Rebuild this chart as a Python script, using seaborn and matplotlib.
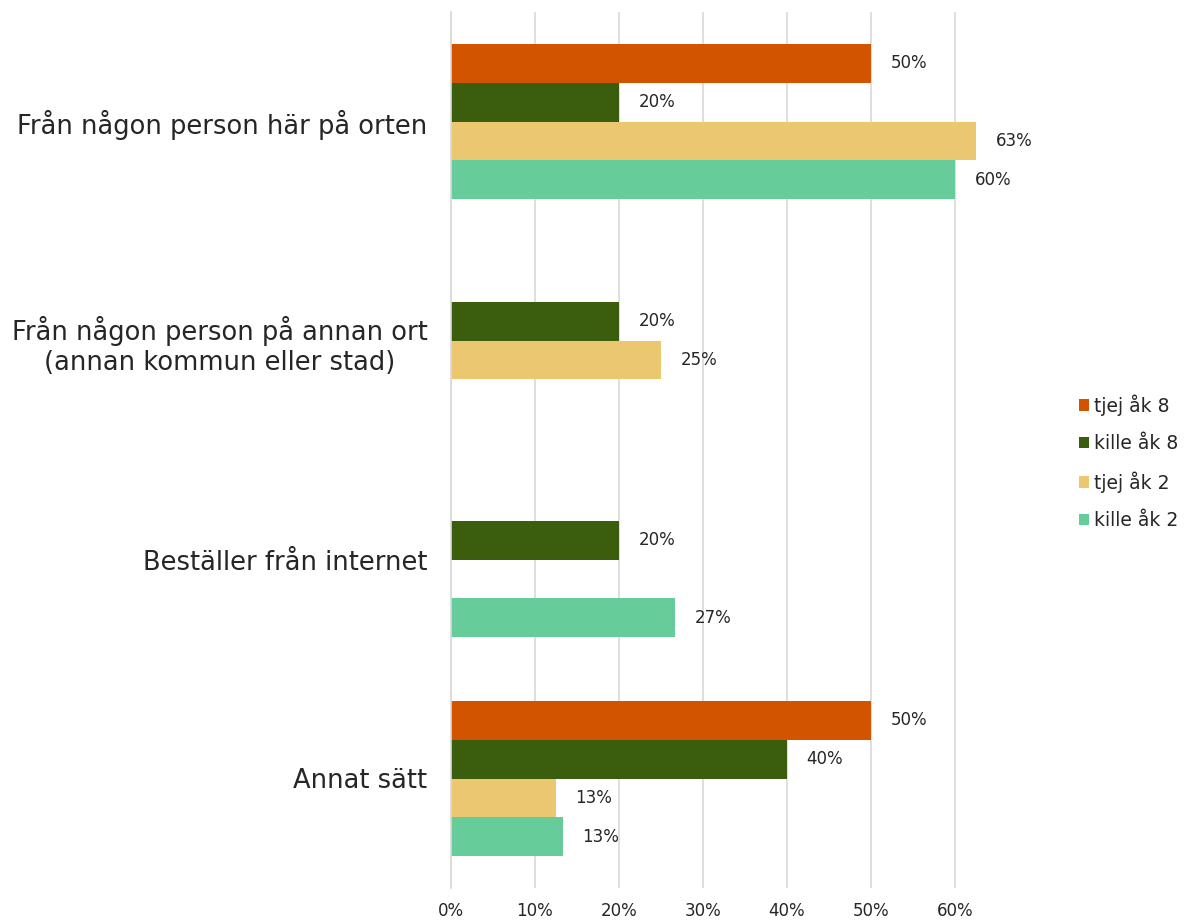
import matplotlib
matplotlib.use("Agg")
import matplotlib.pyplot as plt
import seaborn as sns
import pandas as pd
import numpy as np
from matplotlib.patches import Patch

categories = ["Från någon person här på orten",
              "Från någon person på annan ort\n(annan kommun eller stad)",
              "Beställer från internet",
              "Annat sätt"]
series = ["tjej åk 8", "kille åk 8", "tjej åk 2", "kille åk 2"]
tjej_ak8 = [0.50, np.nan, np.nan, 0.50]
kille_ak8 = [0.20, 0.20, 0.20, 0.40]
tjej_ak2 = [0.625, 0.25, np.nan, 0.125]
kille_ak2 = [0.60, np.nan, 0.267, 0.133]
colors = ["#D35400", "#3A5E0E", "#EBC870", "#66CD9A"]
xticks = [0, 0.1, 0.2, 0.3, 0.4, 0.5, 0.6]

values = [tjej_ak8, kille_ak8, tjej_ak2, kille_ak2]
rows = []
for s, vals in zip(series, values):
    for c, v in zip(categories, vals):
        if not np.isnan(v):
            rows.append({"cat": c, "serie": s, "val": v})
df = pd.DataFrame(rows)

sns.set_theme(style="white")
plt.rcParams["font.family"] = ["DejaVu Sans"]
txt = "#262626"

fig = plt.figure(figsize=(11.86, 9.23), dpi=100)
ax = fig.add_axes([451/1186, 1-888/923, (997-451)/1186, (888-12)/923])

sns.barplot(data=df, y="cat", x="val", hue="serie", order=categories,
            hue_order=series, palette=colors, width=0.71, orient="h",
            ax=ax, legend=False, saturation=1, errorbar=None, linewidth=0)

ax.set_xlim(0, 0.65)
ax.set_ylim(3.5, -0.5)
ax.set_xticks(xticks)
ax.set_xticklabels([f"{int(round(t*100))}%" for t in xticks], fontsize=12, color=txt)
ax.tick_params(axis="x", length=0, pad=10)
ax.grid(axis="x", color="#D9D9D9", linewidth=1.2)
ax.set_axisbelow(True)
for sp in ["top", "right", "bottom"]:
    ax.spines[sp].set_visible(False)
ax.spines["left"].set_color("#D9D9D9")
ax.spines["left"].set_linewidth(1.2)

ax.set_yticks(range(len(categories)))
ax.set_yticklabels(categories, fontsize=18.5, color=txt, linespacing=1.2)
for t in ax.get_yticklabels():
    t.set_multialignment("center")
ax.tick_params(axis="y", length=0, pad=17)
ax.set_yticks([-0.5, 0.5, 1.5, 2.5, 3.5], minor=True)
ax.tick_params(axis="y", which="minor", length=7, color="#D9D9D9", width=1.2)
ax.set_xlabel("")
ax.set_ylabel("")

for cont in ax.containers:
    labels = []
    for b in cont:
        w = b.get_width()
        labels.append("" if np.isnan(w) or w == 0 else f"{int(w*100+0.5)}%")
    ax.bar_label(cont, labels=labels, padding=14, fontsize=12, color=txt)

handles = [Patch(facecolor=c, edgecolor="none") for c in colors]
fig.legend(handles, series, loc="center left", bbox_to_anchor=(1062/1186, 1-462/923),
           frameon=False, fontsize=13.5, handlelength=0.55, handleheight=0.55,
           handletextpad=0.25, labelspacing=0.97, labelcolor=txt)

fig.savefig("out.png", dpi=100)
